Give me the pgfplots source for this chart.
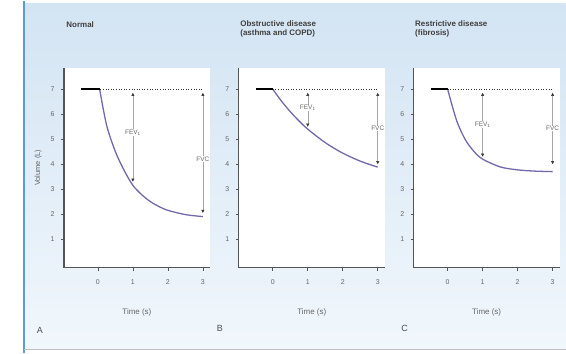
\documentclass[border=0pt]{standalone}
\usepackage{pgfplots}
\pgfplotsset{compat=1.18}
\usepackage{fontspec}
\setmainfont{Liberation Sans}
\usetikzlibrary{arrows.meta}
\definecolor{bgtop}{HTML}{D3E4F3}
\definecolor{bgbot}{HTML}{F1F7FC}
\definecolor{edge}{HTML}{5B9BD5}
\definecolor{curve}{HTML}{7368AE}
\definecolor{axgray}{HTML}{555555}
\definecolor{lblgray}{HTML}{666666}
\definecolor{tipc}{HTML}{333333}
\tikzset{
  lbl/.style={font=\fontsize{6.5}{7.5}\selectfont, text=lblgray, fill=white, inner sep=0.6pt},
  arr/.style={gray!70, line width=0.5pt, {Triangle[length=3pt,width=3pt,color=tipc]}-{Triangle[length=3pt,width=3pt,color=tipc]}},
  curvestyle/.style={curve, line width=1.3pt, smooth},
  dotline/.style={black!80, line width=1.1pt, dash pattern=on 0.8pt off 1.8pt},
  flatseg/.style={black, line width=2.2pt},
}
\pgfplotsset{
  panel/.style={
    scale only axis, width=146bp, height=200bp,
    xmin=-0.97, xmax=3.2, ymin=-0.15, ymax=7.85,
    axis x line=bottom, axis y line=left,
    axis line style={-, line width=1.1pt, axgray},
    tick align=outside, major tick length=3bp,
    xtick={0,1,2,3}, ytick={1,2,3,4,5,6,7},
    tick style={axgray, line width=0.6pt},
    /pgf/number format/assume math mode=true,
    ticklabel style={font=\fontsize{7}{8}\selectfont, text=lblgray},
    xticklabel style={yshift=-5bp},
    yticklabel style={xshift=-3bp},
    xlabel={Time (s)},
    xlabel style={font=\fontsize{8}{9}\selectfont, text=lblgray, yshift=-18bp},
    axis background/.style={fill=white},
    clip=false,
  },
}
\begin{document}
\begin{tikzpicture}[x=1bp,y=1bp]
% background
\fill[white] (0,0) rectangle (566,352);
\shade[top color=bgtop, bottom color=bgbot] (24,4) rectangle (566,349);
\draw[edge, line width=2pt] (24,0) -- (24,352);
\draw[gray!50, line width=0.8pt] (24,3) -- (566,3);

% Panel A
\begin{axis}[panel, at={(64bp,85bp)}, anchor=south west,
  ylabel={Volume (L)},
  ylabel style={font=\fontsize{7.5}{8.5}\selectfont, text=lblgray, yshift=2bp}]
\addplot[curvestyle] coordinates {(0.05,7) (0.25,5.55) (0.5,4.50) (0.75,3.75) (1,3.15) (1.25,2.78) (1.5,2.50) (1.75,2.30) (2,2.15) (2.5,1.98) (3,1.90)};
\addplot[dotline] coordinates {(0,7) (3,7)};
\addplot[flatseg] coordinates {(-0.47,7) (0.05,7)};
\addplot[arr] coordinates {(1,6.85) (1,3.3)} node[pos=0.45, lbl] {FEV\textsubscript{1}};
\addplot[arr] coordinates {(3,6.85) (3,2.05)} node[pos=0.55, lbl] {FVC};
\end{axis}

% Panel B
\begin{axis}[panel, at={(239bp,85bp)}, anchor=south west]
\addplot[curvestyle] coordinates {(0,7) (0.25,6.52) (0.5,6.10) (0.75,5.73) (1,5.40) (1.5,4.86) (2,4.44) (2.5,4.12) (3,3.88)};
\addplot[dotline] coordinates {(0,7) (3,7)};
\addplot[flatseg] coordinates {(-0.47,7) (0,7)};
\addplot[arr] coordinates {(1,6.85) (1,5.5)} node[pos=0.45, lbl] {FEV\textsubscript{1}};
\addplot[arr] coordinates {(3,6.85) (3,4.0)} node[pos=0.5, lbl] {FVC};
\end{axis}

% Panel C
\begin{axis}[panel, at={(414bp,85bp)}, anchor=south west]
\addplot[curvestyle] coordinates {(0,7) (0.25,5.77) (0.5,4.99) (0.75,4.51) (1,4.20) (1.5,3.89) (2,3.77) (2.5,3.72) (3,3.70)};
\addplot[dotline] coordinates {(0,7) (3,7)};
\addplot[flatseg] coordinates {(-0.47,7) (0,7)};
\addplot[arr] coordinates {(1,6.85) (1,4.3)} node[pos=0.5, lbl] {FEV\textsubscript{1}};
\addplot[arr] coordinates {(3,6.85) (3,4.0)} node[pos=0.5, lbl] {FVC};
\end{axis}

% titles
\node[anchor=west, font=\bfseries\fontsize{8}{9.5}\selectfont, text=black!75] at (63,328) {Normal};
\node[anchor=north west, align=left, font=\bfseries\fontsize{8}{9.5}\selectfont, text=black!75] at (237,336) {Obstructive disease\\(asthma and COPD)};
\node[anchor=north west, align=left, font=\bfseries\fontsize{8}{9.5}\selectfont, text=black!75] at (412,336) {Restrictive disease\\(fibrosis)};
% panel letters
\node[font=\fontsize{9}{10}\selectfont, text=black!70] at (40,22) {A};
\node[font=\fontsize{9}{10}\selectfont, text=black!70] at (220,24) {B};
\node[font=\fontsize{9}{10}\selectfont, text=black!70] at (405,24) {C};
\end{tikzpicture}
\end{document}
